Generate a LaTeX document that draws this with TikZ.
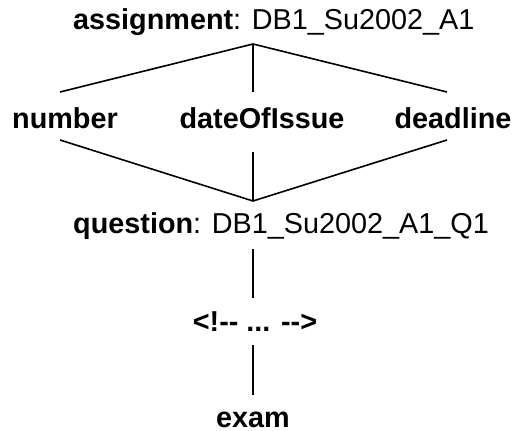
\documentclass[tikz,border=0pt]{standalone}
\usepackage{fontspec}
\setmainfont{Liberation Sans}
\begin{document}
\begin{tikzpicture}[x=1pt,y=-1pt,
  lbl/.style={inner sep=0pt, anchor=base, font=\fontsize{28.8}{32}\selectfont},
  conn/.style={line width=1.6pt, line cap=butt}]
\useasboundingbox (0,0) rectangle (517,431);
% labels
\node[lbl, anchor=base west] (asg) at (73,29) {\textbf{assignment}: DB1\_Su2002\_A1};
\node[lbl] (num) at (65,128) {\textbf{number}};
\node[lbl] (doi) at (262,128) {\textbf{dateOfIssue}};
\node[lbl] (dl)  at (453,128) {\textbf{deadline}};
\node[lbl, anchor=base west] (qst) at (73,233) {\textbf{question}: DB1\_Su2002\_A1\_Q1};
\node[lbl] (cmt) at (255,331) {\textbf{<!-\kern0pt- ... -\kern0pt->}};
\node[lbl] (exm) at (253,427) {\textbf{exam}};
% connector end points
\coordinate (asg-j) at (253,44);
\coordinate (num-t) at (60,92);
\coordinate (doi-t) at (253,92);
\coordinate (dl-t)  at (447,92);
\coordinate (num-b) at (60,140);
\coordinate (doi-b) at (253,152);
\coordinate (dl-b)  at (447,140);
\coordinate (qst-j) at (253,201);
\coordinate (qst-b) at (253,249);
\coordinate (cmt-t) at (253,298);
\coordinate (cmt-b) at (253,345);
\coordinate (exm-t) at (253,395);
% connectors
\draw[conn] (num-t) -- (asg-j) -- (dl-t);
\draw[conn] (asg-j) -- (doi-t);
\draw[conn] (num-b) -- (qst-j) -- (dl-b);
\draw[conn] (doi-b) -- (qst-j);
\draw[conn] (qst-b) -- (cmt-t);
\draw[conn] (cmt-b) -- (exm-t);
\end{tikzpicture}
\end{document}
